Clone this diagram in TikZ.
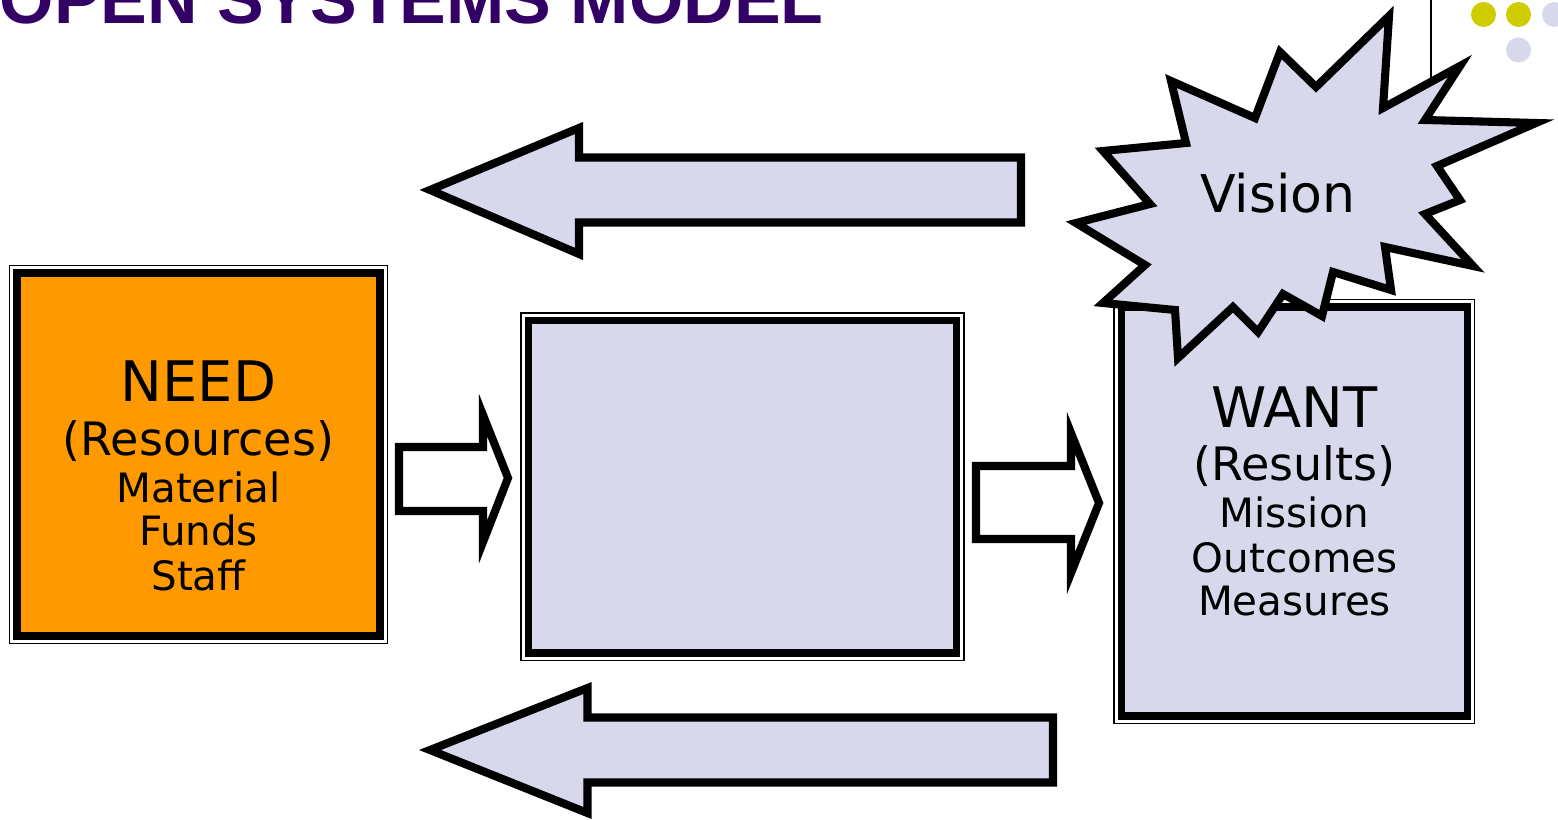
\documentclass[tikz,border=0pt]{standalone}
\usepackage{fontspec}
\setmainfont{DejaVu Sans}
\newfontfamily\headfont{Liberation Sans}
\usetikzlibrary{calc}

\definecolor{lavender}{RGB}{215,216,236}
\definecolor{needOrange}{RGB}{255,153,0}
\definecolor{titlePurple}{RGB}{51,0,102}
\definecolor{dotYellow}{RGB}{207,205,0}

\def\placeStar{%
\coordinate (s1) at (1389,16);
\coordinate (s2) at (1383,108);
\coordinate (s3) at (1460,66);
\coordinate (s4) at (1425,120);
\coordinate (s5) at (1536,123);
\coordinate (s6) at (1437,166);
\coordinate (s7) at (1460,200);
\coordinate (s8) at (1425,214);
\coordinate (s9) at (1473,266);
\coordinate (s10) at (1385,247);
\coordinate (s11) at (1391,290);
\coordinate (s12) at (1333,272);
\coordinate (s13) at (1322,316);
\coordinate (s14) at (1283,294);
\coordinate (s15) at (1258,332);
\coordinate (s16) at (1233,307);
\coordinate (s17) at (1178,358);
\coordinate (s18) at (1175,310);
\coordinate (s19) at (1103,303);
\coordinate (s20) at (1145,265);
\coordinate (s21) at (1076,223);
\coordinate (s22) at (1150,204);
\coordinate (s23) at (1103,151);
\coordinate (s24) at (1186,143);
\coordinate (s25) at (1171,81);
\coordinate (s26) at (1255,118);
\coordinate (s27) at (1280,52);
\coordinate (s28) at (1316,87);
}

\begin{document}
\begin{tikzpicture}[x=0.1mm, y=-0.1mm]

% styles
\tikzstyle{boxThick}=[draw, line width=2pt, inner sep=0pt, outer sep=0pt]
\tikzstyle{boxFrame}=[draw, line width=0.5pt]
\tikzstyle{blockArrow}=[draw, line width=2.3pt, miter limit=10]
\tikzstyle{dot}=[circle, inner sep=0pt, minimum size=2.5mm]

% text styles
\tikzstyle{textTitle}=[anchor=base west, inner sep=0pt, text=titlePurple, font=\headfont\bfseries\fontsize{19.9}{22}\selectfont]
\tikzstyle{textHead}=[anchor=base, inner sep=0pt, font=\fontsize{15.9}{18}\selectfont]
\tikzstyle{textSub}=[anchor=base, inner sep=0pt, font=\fontsize{13.1}{15}\selectfont]
\tikzstyle{textLine}=[anchor=base, inner sep=0pt, font=\fontsize{11.5}{13}\selectfont]
\tikzstyle{textVision}=[anchor=base, inner sep=0pt, font=\fontsize{14.8}{17}\selectfont]

\useasboundingbox (0,0) rectangle (1558,820);

\node[textTitle] (title) at (-1,24) {OPEN SYSTEMS MODEL};

% corner decoration
\draw[line width=0.6pt] (1431,0) -- (1431,120);
\node[dot, fill=dotYellow] (d1) at (1483.5,14.5) {};
\node[dot, fill=dotYellow] (d2) at (1518.5,14.5) {};
\node[dot, fill=lavender] (d3) at (1554.5,14.5) {};
\node[dot, fill=lavender] (d4) at (1518.5,50) {};

% boxes
\node[boxThick, fill=needOrange, minimum width=36.3mm, minimum height=36.3mm] (need) at (198.5,454.5) {};
\node[boxThick, fill=lavender, minimum width=42.8mm, minimum height=33.25mm] (process) at (742.5,486.75) {};
\node[boxThick, fill=lavender, minimum width=34.55mm, minimum height=40.9mm] (want) at (1294.25,511.5) {};

\foreach \b in {need,process,want}
  \draw[boxFrame] ($(\b.north west)+(-7.5,-7.5)$) rectangle ($(\b.south east)+(7.5,7.5)$);

% block arrows
\draw[blockArrow, fill=lavender] (430,190) -- (579,128) -- (579,157.5) -- (1021,157.5)
  -- (1021,222.5) -- (579,222.5) -- (579,254) -- cycle;
\draw[blockArrow, fill=lavender] (430,750) -- (587.5,688) -- (587.5,717.5) -- (1053,717.5)
  -- (1053,782.5) -- (587.5,782.5) -- (587.5,813) -- cycle;
\draw[blockArrow, fill=white] (399,447) -- (483,447) -- (483,415) -- (508,478)
  -- (483,542) -- (483,511) -- (399,511) -- cycle;
\draw[blockArrow, fill=white] (976,466) -- (1071,466) -- (1071,433) -- (1099,503)
  -- (1071,573) -- (1071,539) -- (976,539) -- cycle;

% starburst
\placeStar
\draw[blockArrow, fill=lavender] (s1) \foreach \i in {2,...,28} {-- (s\i)} -- cycle;
\node[textVision] (vision) at (1278,213) {Vision};

% box texts
\node[textHead] (needA) at (198.5,402) {NEED};
\node[textSub]  (needB) at (198.5,456) {(Resources)};
\node[textLine] (needC) at (198.5,502) {Material};
\node[textLine] (needD) at (198.5,546) {Funds};
\node[textLine] (needE) at (198.5,590) {Staff};

\node[textHead] (wantA) at (1294.5,428) {WANT};
\node[textSub]  (wantB) at (1294.5,481) {(Results)};
\node[textLine] (wantC) at (1294.5,528) {Mission};
\node[textLine] (wantD) at (1294.5,572) {Outcomes};
\node[textLine] (wantE) at (1294.5,616) {Measures};

\end{tikzpicture}
\end{document}
